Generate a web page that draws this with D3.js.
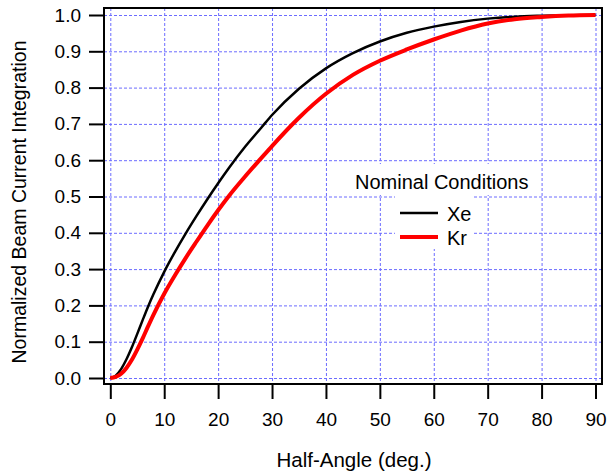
<!DOCTYPE html>
<html>
<head>
<meta charset="utf-8">
<script src="https://cdn.jsdelivr.net/npm/d3@7"></script>
<style>
  html, body { margin: 0; padding: 0; background: #fff; }
  svg { display: block; font-family: "Liberation Sans", Arial, Helvetica, sans-serif; }
</style>
</head>
<body>
<svg id="chart" width="616" height="473"></svg>
<script>
// Half-angle (degrees) at which the integrated beam current is sampled
const halfAngle = [0, 1, 2, 3, 4, 5, 6, 7, 8, 10, 12, 14, 16, 18, 20, 22, 25, 28, 30,
                   35, 40, 45, 50, 55, 60, 65, 70, 75, 80, 85, 90];

// Normalized beam current integration, xenon
const xeValues = [0, 0.0065, 0.0245, 0.0515, 0.0845, 0.1215, 0.1595, 0.1965, 0.2305, 0.2925,
                  0.3475, 0.3985, 0.4465, 0.4925, 0.5365, 0.5785, 0.637, 0.6895, 0.7245, 0.797,
                  0.853, 0.895, 0.927, 0.951, 0.968, 0.981, 0.990, 0.9955, 0.998, 0.9995, 1.0];

// Normalized beam current integration, krypton
const krValues = [0, 0.0028, 0.0118, 0.0278, 0.050, 0.078, 0.109, 0.142, 0.174, 0.232,
                  0.283, 0.331, 0.376, 0.420, 0.462, 0.5015, 0.555, 0.6056, 0.639, 0.717,
                  0.783, 0.835, 0.874, 0.905, 0.9325, 0.957, 0.9765, 0.9885, 0.9945, 0.9985, 1.0];

const xTicks = [0, 10, 20, 30, 40, 50, 60, 70, 80, 90];
const yTicks = [0.0, 0.1, 0.2, 0.3, 0.4, 0.5, 0.6, 0.7, 0.8, 0.9, 1.0];

const seriesNames = ["Xe", "Kr"];
const seriesColors = ["#000000", "#ff0000"];
const seriesWidths = [2.5, 4];
const legendTitle = "Nominal Conditions";
const xTitle = "Half-Angle (deg.)";
const yTitle = "Normalized Beam Current Integration";

const svg = d3.select("#chart");

// Plot frame and data scales (data range sits slightly inside the frame)
const frame = { left: 104, right: 602, top: 8, bottom: 384 };
const x = d3.scaleLinear().domain([0, 90]).range([110.3, 595.5]);
const y = d3.scaleLinear().domain([0, 1]).range([378, 15]);

// Dotted blue grid
const grid = svg.append("g").attr("stroke", "#6c6cff").attr("stroke-width", 1)
  .attr("stroke-dasharray", "3,2").attr("fill", "none");
grid.selectAll("line.v").data(xTicks).join("line").attr("class", "v")
  .attr("x1", d => x(d) + 0.5).attr("x2", d => x(d) + 0.5)
  .attr("y1", frame.top).attr("y2", frame.bottom);
grid.selectAll("line.h").data(yTicks).join("line").attr("class", "h")
  .attr("x1", frame.left).attr("x2", frame.right)
  .attr("y1", d => y(d) + 0.5).attr("y2", d => y(d) + 0.5);

// Curves
const lineGen = d3.line().curve(d3.curveMonotoneX)
  .x(d => x(d[0])).y(d => y(d[1]));
const series = [xeValues, krValues];
series.forEach((vals, i) => {
  svg.append("path")
    .datum(halfAngle.map((a, j) => [a, vals[j]]))
    .attr("fill", "none")
    .attr("stroke", seriesColors[i])
    .attr("stroke-width", seriesWidths[i])
    .attr("stroke-linejoin", "round")
    .attr("d", lineGen);
});

// Frame
svg.append("rect")
  .attr("x", frame.left).attr("y", frame.top)
  .attr("width", frame.right - frame.left).attr("height", frame.bottom - frame.top)
  .attr("fill", "none").attr("stroke", "#000").attr("stroke-width", 2);

// Axes
const yAxis = d3.axisLeft(y).tickValues(yTicks).tickFormat(d3.format(".1f"))
  .tickSize(15).tickSizeOuter(0).tickPadding(8);
const gy = svg.append("g").attr("transform", `translate(${frame.left},0)`).call(yAxis);

const xAxis = d3.axisBottom(x).tickValues(xTicks).tickFormat(d3.format("d"))
  .tickSize(15).tickSizeOuter(0).tickPadding(14);
const gx = svg.append("g").attr("transform", `translate(0,${frame.bottom})`).call(xAxis);

[gx, gy].forEach(g => {
  g.select(".domain").remove();
  g.selectAll(".tick line").attr("stroke", "#000").attr("stroke-width", 2);
  g.selectAll(".tick text").attr("fill", "#000")
    .style("font-size", "19px")
    .style("font-family", "'Liberation Sans', Arial, sans-serif");
});

// Axis titles
svg.append("text")
  .attr("x", (frame.left + frame.right) / 2 + 1).attr("y", 467)
  .attr("text-anchor", "middle").style("font-size", "20.5px")
  .text(xTitle);
svg.append("text")
  .attr("transform", "translate(26,202) rotate(-90)")
  .attr("text-anchor", "middle").style("font-size", "19.5px")
  .text(yTitle);

// Legend (opaque boxes hide the grid behind it)
const legend = svg.append("g");
legend.append("rect").attr("x", 350).attr("y", 164).attr("width", 186).attr("height", 31)
  .attr("fill", "#fff");
legend.append("rect").attr("x", 395).attr("y", 195).attr("width", 79).attr("height", 54)
  .attr("fill", "#fff");
legend.append("text").attr("x", 355).attr("y", 188.5)
  .style("font-size", "20px").text(legendTitle);
seriesNames.forEach((name, i) => {
  const ly = 213 + i * 24;
  legend.append("line")
    .attr("x1", 400).attr("x2", 438).attr("y1", ly).attr("y2", ly)
    .attr("stroke", seriesColors[i]).attr("stroke-width", seriesWidths[i]);
  legend.append("text").attr("x", 447).attr("y", ly + 8)
    .style("font-size", "20px").text(name);
});
</script>
</body>
</html>
